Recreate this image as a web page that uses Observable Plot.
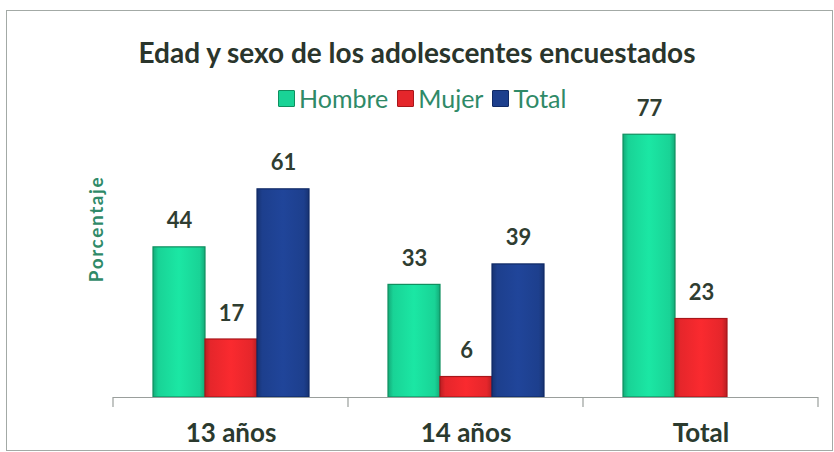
<!DOCTYPE html>
<html><head><meta charset="utf-8">
<script src="https://cdn.jsdelivr.net/npm/d3@7"></script>
<script src="https://cdn.jsdelivr.net/npm/@observablehq/plot@0.6"></script>
<style>
body{margin:0;background:#fff;}
#wrap{position:relative;width:834px;height:452px;overflow:hidden;font-family:Lato,"Open Sans",sans-serif;}
#frame{position:absolute;left:6px;top:10px;width:827px;height:441px;border:1px solid #a3aaa6;box-sizing:border-box;}
#chart{position:absolute;left:0;top:0;}
#title{position:absolute;left:0;width:834px;top:36px;line-height:32px;text-align:center;font-weight:bold;font-size:28px;color:#2a352c;}
#legend{position:absolute;left:278px;top:85px;height:26px;display:flex;align-items:center;font-size:25px;color:#2f8a68;}
#legend .sw{width:15px;height:15px;display:inline-block;margin-right:4px;border-radius:1px;}
#legend .it{display:flex;align-items:center;margin-right:9px;}
#ylab{position:absolute;left:95px;top:229px;transform:translate(-50%,-50%) rotate(-90deg);font-weight:bold;font-size:19px;letter-spacing:1.6px;color:#2f8a68;white-space:nowrap;}
</style>
</head><body>
<div id="wrap">
  <div id="frame"></div>
  <div id="chart"></div>
  <div id="title"></div>
  <div id="legend"></div>
  <div id="ylab"></div>
</div>
<script>
const titleText = "Edad y sexo de los adolescentes encuestados";
const yLabel = "Porcentaje";
const groups = ["13 años", "14 años", "Total"];
const series = ["Hombre", "Mujer", "Total"];
const hombre = [44, 33, 77];
const mujer = [17, 6, 23];
const total = [61, 39, null];
const colors = ["#19d396", "#e5262b", "#1d3f8d"];
const edgeColors = ["#0f8f5f", "#a8161a", "#102a66"];

const seriesValues = [hombre, mujer, total];
const rows = [];
groups.forEach((g, gi) => {
  series.forEach((s, si) => {
    const v = seriesValues[si][gi];
    if (v != null) rows.push({group: g, serie: s, value: v});
  });
});

document.getElementById("title").textContent = titleText;
document.getElementById("ylab").textContent = yLabel;
const legend = document.getElementById("legend");
series.forEach((s, i) => {
  const it = document.createElement("span");
  it.className = "it";
  const sw = document.createElement("span");
  sw.className = "sw";
  sw.style.background = colors[i];
  sw.style.border = "1px solid " + edgeColors[i];
  it.appendChild(sw);
  it.appendChild(document.createTextNode(s));
  legend.appendChild(it);
});

const gradId = i => "grad" + i;
const defsMark = () => {
  const g = d3.create("svg:g");
  const defs = g.append("defs");
  colors.forEach((c, i) => {
    const lg = defs.append("linearGradient").attr("id", gradId(i)).attr("x1", 0).attr("x2", 1).attr("y1", 0).attr("y2", 0);
    const dk = d3.color(c).darker(0.6).formatHex();
    const lt = d3.color(c).brighter(0.25).formatHex();
    lg.append("stop").attr("offset", "0%").attr("stop-color", dk);
    lg.append("stop").attr("offset", "10%").attr("stop-color", c);
    lg.append("stop").attr("offset", "50%").attr("stop-color", lt);
    lg.append("stop").attr("offset", "90%").attr("stop-color", c);
    lg.append("stop").attr("offset", "100%").attr("stop-color", dk);
  });
  return g.node();
};

const barMarks = series.map((s, i) =>
  Plot.barY(rows.filter(d => d.serie === s), {
    fx: "group", x: "serie", y: "value",
    fill: `url(#${gradId(i)})`, stroke: edgeColors[i], strokeWidth: 1.2, inset: 0
  })
);

const chart = Plot.plot({
  width: 834,
  height: 452,
  marginTop: 124,
  marginBottom: 55,
  marginLeft: 112,
  marginRight: 15,
  style: {background: "transparent", fontFamily: "Lato, sans-serif"},
  fx: {domain: groups, padding: 0},
  x: {domain: series, paddingInner: 0, paddingOuter: 0.75, axis: null},
  y: {domain: [0, 80], axis: null},
  marks: [
    defsMark,
    ...barMarks,
    Plot.text(rows, {
      fx: "group", x: "serie", y: "value", text: d => String(d.value),
      dy: -26, fontSize: 22, fontWeight: "bold", fill: "#2f3d31"
    }),
    Plot.ruleY([0], {stroke: "#9a9f9c", strokeWidth: 1.2}),
    Plot.axisFx({anchor: "bottom", tickSize: 0, tickPadding: 26, fontSize: 26, fontWeight: "bold", fill: "#2b3a2e", label: null})
  ]
});
document.getElementById("chart").appendChild(chart);

// group boundary ticks, placed from the fx and y scales
const fx = chart.scale("fx");
const ys = chart.scale("y");
const y0 = ys.apply(0);
const edges = groups.map(g => fx.apply(g));
edges.push(fx.apply(groups[groups.length - 1]) + fx.bandwidth);
const svg = d3.select(chart);
svg.append("g").selectAll("line").data(edges).join("line")
  .attr("x1", d => d).attr("x2", d => d)
  .attr("y1", y0).attr("y2", y0 + 10)
  .attr("stroke", "#9a9f9c").attr("stroke-width", 1.2);
</script>
</body></html>
